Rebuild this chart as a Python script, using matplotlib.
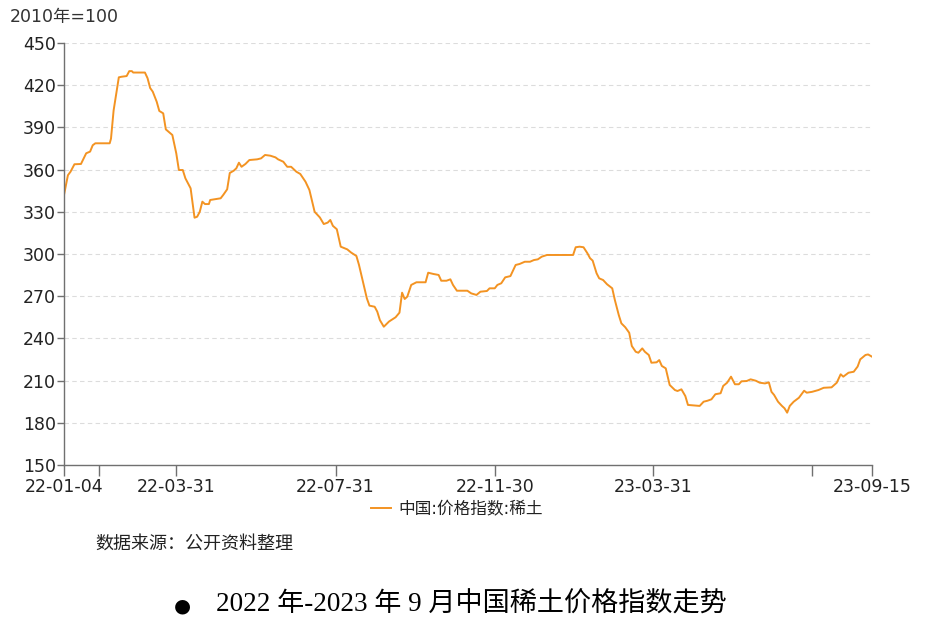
import matplotlib
matplotlib.use("Agg")
import matplotlib.pyplot as plt
import pandas as pd

# ---- data: days since 2022-01-04, index value (2010 = 100) ----
start_date = "2022-01-04"
days = [0, 3, 5, 8, 13, 17, 20, 22, 24, 35, 36, 38, 40, 42, 44, 48, 50, 52, 53,
        62, 64, 66, 68, 71, 73, 76, 78, 81, 83, 86, 88, 91, 93, 97, 100, 102,
        104, 106, 108, 111, 112, 120, 122, 125, 127, 130, 132, 134, 136, 139,
        142, 148, 151, 154, 158, 162, 164, 168, 171, 174, 178, 181, 185, 188,
        192, 196, 199, 202, 204, 206, 209, 212, 217, 220, 224, 226, 229, 232,
        234, 238, 240, 242, 245, 249, 254, 257, 259, 261, 263, 266, 270, 277,
        279, 283, 287, 289, 293, 296, 298, 301, 309, 312, 316, 319, 324, 326,
        330, 332, 335, 338, 342, 346, 349, 353, 357, 360, 363, 366, 370, 390,
        392, 395, 398, 401, 403, 405, 408, 410, 413, 416, 420, 422, 425, 427,
        430, 433, 435, 438, 440, 443, 445, 448, 450, 454, 456, 458, 461, 464,
        468, 470, 473, 476, 478, 485, 487, 490, 493, 496, 499, 503, 505, 508,
        511, 514, 517, 519, 523, 526, 530, 533, 537, 540, 542, 544, 547, 550,
        552, 554, 556, 559, 563, 565, 567, 569, 573, 578, 582, 588, 592, 595,
        597, 601, 605, 608, 610, 614, 616, 618, 619]
values = [342, 356, 358.5, 363.8, 364, 371.6, 372.8, 377.3, 378.7, 378.7, 382,
          402, 414, 425.6, 426, 426.5, 430, 430, 429,
          429, 425, 418, 415.4, 408.3, 401.7, 400, 388.6, 386.2, 384.6, 371.6,
          359.7, 359.7, 353.8, 346.7, 325.8, 326.5,
          330, 337.2, 335.5, 335.5, 338.4, 339.6, 342, 346, 357.6, 359.2,
          360.9, 364.9, 362, 364,
          366.8, 367.3, 368, 370.4, 369.9, 368.7, 367.3, 365.6, 362, 362,
          358.5, 356.9, 351.4, 345.5,
          330, 326, 321.3, 322.3, 324.2, 320, 317.6, 305.2, 303.3, 301, 298.6,
          292.2, 280.3, 268.5,
          263.3, 262.5, 259, 253, 248.3, 252, 255, 258.3, 272.5, 268, 269.7,
          278, 279.9, 279.9,
          286.7, 285.8, 285.1, 281, 281, 282, 278, 273.9, 273.9, 272, 270.9,
          273.2, 273.7, 275.6,
          275.6, 278, 279.2, 283.4, 284.3, 292.2, 292.9, 294.5, 294.5, 295.7,
          296.2, 298.1, 299.3, 299.3,
          304.8, 305.2, 304.8, 300.5, 297, 295.3, 286.3, 282.7, 281.5, 278.5,
          275.6, 267.3, 256.6, 250.7,
          247.9, 244, 234.6, 230.5, 229.8, 232.9, 230.5, 228.2, 222.7, 223,
          224.6, 220.4, 218.7, 206.9,
          203.3, 202.6, 203.8, 199, 192.7, 192.2, 192, 195, 195.7, 196.7, 200.3,
          201, 206.2, 208.5,
          212.8, 207.4, 207.4, 209.5, 209.7, 210.9, 209.9, 208.5, 208, 208.7,
          202, 199.8, 195, 192,
          190.3, 187.2, 192, 195, 197.8, 200.3, 202.8, 201.4, 202, 203.3,
          204.9, 205.2, 208.5, 214.5,
          212.8, 215.6, 216.3, 220, 225.1, 228.2, 228.6, 227.5, 227]

end_date = "2023-09-15"
tick_dates = ["2022-01-04", "2022-01-31", "2022-03-31", "2022-07-31",
              "2022-11-30", "2023-03-31", "2023-07-31", "2023-09-15"]
tick_labels = ["22-01-04", "", "22-03-31", "22-07-31", "22-11-30",
               "23-03-31", "", "23-09-15"]
y_ticks = [150, 180, 210, 240, 270, 300, 330, 360, 390, 420, 450]

series_name = "中国:价格指数:稀土"
unit_label = "2010年=100"
source_text = "数据来源：公开资料整理"
title_text = "2022 年-2023 年 9 月中国稀土价格指数走势"

# ---- plotting ----
plt.rcParams['font.family'] = ['DejaVu Sans', 'Noto Sans CJK SC']
line_color = "#F39322"
axis_color = "#707070"

dates = pd.Timestamp(start_date) + pd.to_timedelta(days, unit="D")

fig = plt.figure(figsize=(9.28, 6.30), dpi=100)
ax = fig.add_axes([64 / 928, 1 - 465 / 630, (872 - 64) / 928, (465 - 43) / 630])

ax.plot(dates, values, color=line_color, lw=1.4, label=series_name)

ax.set_xlim(pd.Timestamp(start_date), pd.Timestamp(end_date))
ax.set_ylim(150, 450)
ax.set_yticks(y_ticks)
ax.set_xticks([pd.Timestamp(d) for d in tick_dates])
ax.set_xticklabels(tick_labels)

for s in ["top", "right"]:
    ax.spines[s].set_visible(False)
for s in ["left", "bottom"]:
    ax.spines[s].set_color(axis_color)
    ax.spines[s].set_linewidth(1.0)

ax.tick_params(axis="y", direction="out", length=5, width=1, color=axis_color,
               labelsize=12.5, labelcolor="#222222", pad=1)
ax.tick_params(axis="x", direction="out", length=8, width=1, color=axis_color,
               labelsize=12.5, labelcolor="#222222", pad=1)

ax.yaxis.grid(True, linestyle=(0, (4, 3)), color="#dcdcdc", lw=0.8)
ax.set_axisbelow(True)

fig.text(10 / 928, 1 - 17 / 630, unit_label, fontsize=12.5, color="#333333",
         ha="left", va="center")

ax.legend(loc="center", bbox_to_anchor=(457 / 928, 1 - 509 / 630),
          bbox_transform=fig.transFigure, frameon=False, fontsize=12,
          handlelength=1.2, handletextpad=0.4, labelcolor="#222222")

fig.text(95 / 928, 1 - 544 / 630, source_text, fontsize=13, color="#222222",
         ha="left", va="center", family=['Noto Sans CJK SC'])

fig.text(182 / 928, 1 - 606 / 630, "●", fontsize=14, color="black",
         ha="center", va="center", family=['DejaVu Sans'])
fig.text(216 / 928, 1 - 605 / 630, title_text, fontsize=19.5, color="black",
         ha="left", va="center", family=['Liberation Serif', 'Noto Sans CJK SC'])

fig.savefig("out.png", dpi=100)
